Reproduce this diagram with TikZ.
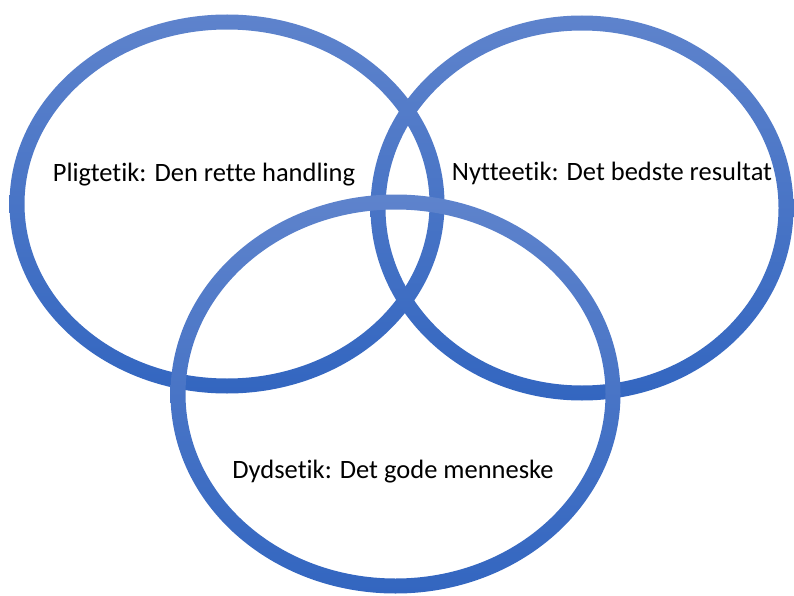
\documentclass[tikz,border=0pt]{standalone}
\usepackage{fontspec}
\setmainfont{Carlito}[Ligatures={NoCommon,NoRequired,NoContextual}]
\definecolor{ringtop}{RGB}{94,131,204}
\definecolor{ringbot}{RGB}{51,102,192}
\tikzset{
  lbl/.style={anchor=base, inner sep=0pt, font=\fontsize{26.5}{30}\selectfont, text=black},
}
\newcommand{\myring}[4]{% cx, cy, rx, ry
  \shade[top color=ringtop, bottom color=ringbot, even odd rule]
    (#1,#2) ellipse [x radius=#3+7.5, y radius=#4+7.5]
    (#1,#2) ellipse [x radius=#3-7.5, y radius=#4-7.5];
}
\begin{document}
\begin{tikzpicture}[x=1pt,y=-1pt]
\useasboundingbox (0,0) rectangle (794,596);
\myring{227}{204}{210}{182}
\myring{582}{208}{204}{185}
\myring{395.5}{394}{217.5}{192}
\node[lbl] (pligt) at (204,182) {Pligtetik: Den rette handling};
\node[lbl] (nytte) at (612,180) {Nytteetik: Det bedste resultat};
\node[lbl] (dyd) at (393,478) {Dydsetik: Det gode menneske};
\end{tikzpicture}
\end{document}
